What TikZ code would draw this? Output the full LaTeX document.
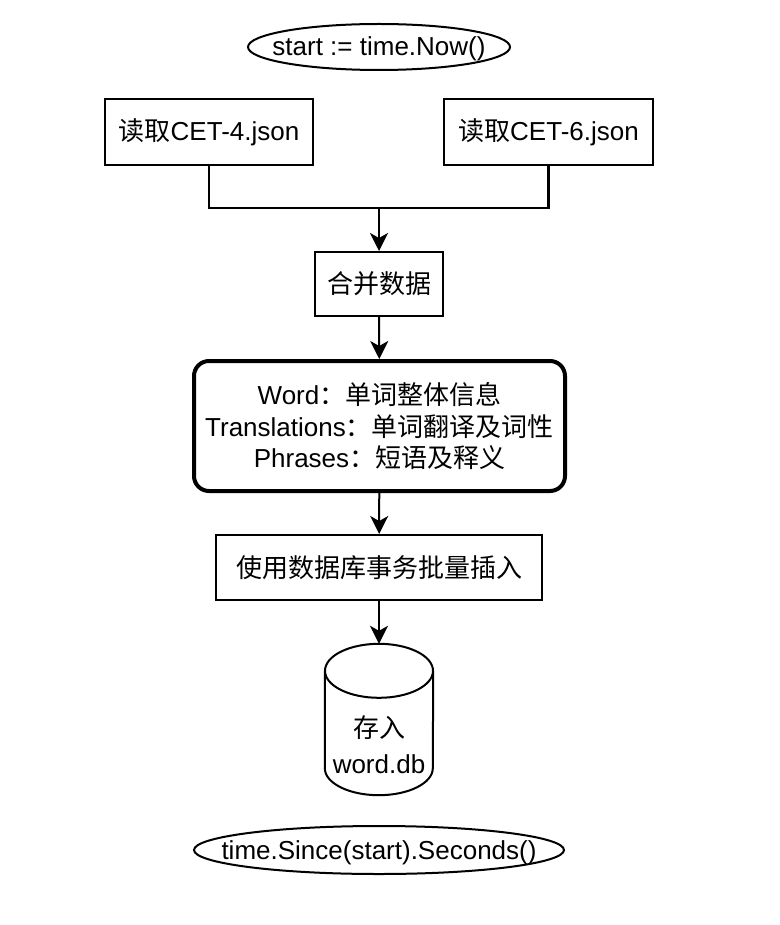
\documentclass[tikz,border=0pt]{standalone}
\usepackage{fontspec}
\setmainfont{Liberation Sans}
\newfontfamily\cjk{Noto Sans CJK SC}
\usetikzlibrary{shapes.geometric,arrows.meta,positioning,calc}
\newcommand{\zh}[1]{{\cjk #1}}

\begin{document}
\begin{tikzpicture}[x=1pt,y=-1pt,
    font=\fontsize{26}{32}\selectfont,
    >={Stealth[length=18pt,width=18pt,inset=5pt]},
% terminal ellipses
    terminal/.style={ellipse,draw,line width=2pt,inner sep=0pt},
% plain process boxes
    process/.style={rectangle,draw,line width=2pt,inner sep=0pt,
		text centered},
    info/.style={rectangle,rounded corners=15pt,draw,line width=4pt,
		inner sep=0pt,align=center},
    store/.style={rectangle,inner sep=0pt},
    arr/.style={->,line width=2pt}
    ]
\useasboundingbox (0,0) rectangle (779,925);

\node [terminal,minimum width=262pt,minimum height=46pt] (start) at (379,47)
	{\makebox[0pt]{\raisebox{-9pt}[0pt][0pt]{start := time.Now()}}};
\node [process,minimum width=208pt,minimum height=66pt] (cetfour) at (209,132)
	{\zh{读取}CET-4.json};
\node [process,minimum width=209pt,minimum height=66pt] (cetsix) at (548.5,132)
	{\zh{读取}CET-6.json};
\coordinate (join) at (379,208);
\node [process,minimum width=128pt,minimum height=64pt] (merge) at (379,284)
	{\zh{合并数据}};
\node [info,minimum width=371pt,minimum height=130pt,
	font=\fontsize{26}{31.5}\selectfont] (model) at (379.5,426)
	{Word\zh{：单词整体信息}\\
	 Translations\zh{：单词翻译及词性}\\
	 Phrases\zh{：短语及释义}};
\node [process,minimum width=326pt,minimum height=65pt] (insert) at (379,567.5)
	{\zh{使用数据库事务批量插入}};
% database drum
\node [store,minimum width=108pt,minimum height=151pt] (db) at (379,719.5) {};
\draw [line width=2pt] ($(db.north)+(0,27)$) ellipse [x radius=54pt,y radius=27pt];
\draw [line width=2pt] ($(db.north west)+(0,27)$) -- ($(db.south west)+(0,-27)$)
	arc [start angle=180,end angle=360,x radius=54pt,y radius=27pt]
	-- ($(db.north east)+(0,27)$);
\node [align=center,font=\fontsize{26}{36}\selectfont] (dbtext) at (379,745)
	{\zh{存入}\\word.db};
\node [terminal,minimum width=370pt,minimum height=48pt] (finish) at (379,850)
	{\makebox[0pt]{\raisebox{-9pt}[0pt][0pt]{time.Since(start).Seconds()}}};

\draw [line width=2.3pt] (cetfour.south) |- (join) -| (cetsix.south);
\draw [arr] (join) -- (merge);
\draw [arr] (merge) -- (model);
\draw [arr] (model) -- (insert);
\draw [arr] (insert) -- (db);
\end{tikzpicture}
\end{document}
